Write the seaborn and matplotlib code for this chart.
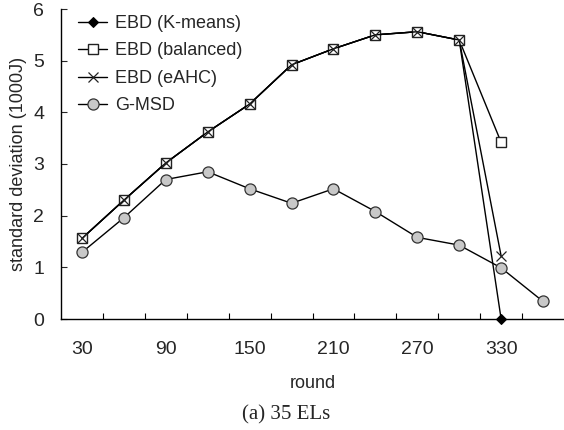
import numpy as np
import pandas as pd
import matplotlib
matplotlib.use("Agg")
import matplotlib.pyplot as plt
import seaborn as sns

# Rounds (category axis) and standard deviation of residual energy (1000J)
rounds = [30, 60, 90, 120, 150, 180, 210, 240, 270, 300, 330, 360]
ebd_kmeans = [1.56, 2.30, 3.02, 3.62, 4.16, 4.92, 5.23, 5.50, 5.56, 5.40, 0.00]
ebd_balanced = [1.56, 2.30, 3.02, 3.62, 4.16, 4.92, 5.23, 5.50, 5.56, 5.40, 3.42]
ebd_eahc = [1.56, 2.30, 3.02, 3.62, 4.16, 4.92, 5.23, 5.50, 5.56, 5.40, 1.22]
g_msd = [1.29, 1.96, 2.70, 2.85, 2.52, 2.24, 2.52, 2.08, 1.58, 1.43, 0.99, 0.34]
xtick_labels = ["30", "90", "150", "210", "270", "330"]

sns.set_style("ticks")
plt.rcParams["font.family"] = ["Liberation Sans", "DejaVu Sans"]

fig = plt.figure(figsize=(5.64, 4.30), dpi=100)
ax = fig.add_axes([61 / 564, 1 - 319 / 430, 503 / 564, 310 / 430])

series = [
    ("EBD (K-means)", ebd_kmeans, dict(marker="D", markersize=5, markerfacecolor="black",
                                        markeredgecolor="black")),
    ("EBD (balanced)", ebd_balanced, dict(marker="s", markersize=7.5, markerfacecolor="white",
                                          markeredgecolor="#222222", markeredgewidth=1.0)),
    ("EBD (eAHC)", ebd_eahc, dict(marker="x", markersize=7.5, markeredgecolor="#222222",
                                  markeredgewidth=0.9)),
    ("G-MSD", g_msd, dict(marker="o", markersize=8, markerfacecolor="#c8c8c8",
                          markeredgecolor="#333333", markeredgewidth=0.9)),
]

for name, vals, style in series:
    df = pd.DataFrame({"pos": np.arange(len(vals)), "value": vals})
    sns.lineplot(data=df, x="pos", y="value", ax=ax, color="black", linewidth=1.0,
                 label=name, clip_on=False, **style)

ax.set_xlim(-0.5, len(rounds) - 0.5)
ax.set_ylim(0, 6)

# category boundaries carry the tick marks, every other category is labelled
ax.set_xticks(np.arange(0.5, len(rounds) - 0.5, 1.0))
ax.set_xticklabels([])
ax.set_xticks(np.arange(0, len(rounds), 2), minor=True)
ax.set_xticklabels(xtick_labels, minor=True)
ax.tick_params(axis="x", which="major", direction="in", length=4.5, width=0.8, color="black")
ax.tick_params(axis="x", which="minor", length=0, pad=15.5, labelsize=14)

ax.set_yticks(range(0, 7))
ax.tick_params(axis="y", direction="in", length=4.5, width=0.8, pad=12, labelsize=14)

for side in ("top", "right"):
    ax.spines[side].set_visible(False)
for side in ("left", "bottom"):
    ax.spines[side].set_color("black")
    ax.spines[side].set_linewidth(1.0)

ax.set_xlabel("round", fontsize=13)
ax.xaxis.set_label_coords(0.5, -(375 - 319) / 310)
ax.set_ylabel("standard deviation (1000J)", fontsize=13)
ax.yaxis.set_label_coords(-(61 - 27) / 503, 0.5)

ax.legend(loc="upper left", bbox_to_anchor=(0.02, 1.004), frameon=False, fontsize=13,
          handlelength=1.6, handletextpad=0.45, labelspacing=0.58, borderaxespad=0)

fig.text(286 / 564, 1 - 419.5 / 430, "(a) 35 ELs", ha="center", va="baseline",
         fontsize=15, family=["Liberation Serif", "DejaVu Serif"])

fig.savefig("out.png", dpi=100)
